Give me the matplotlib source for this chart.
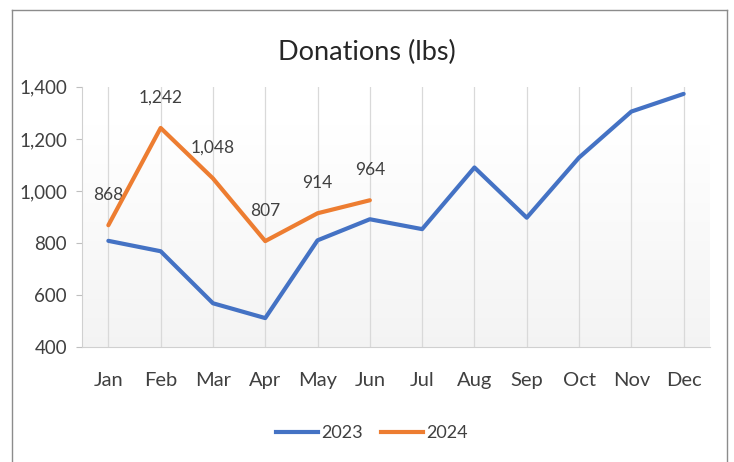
import matplotlib
matplotlib.use("Agg")
import matplotlib.pyplot as plt
import numpy as np
from matplotlib.lines import Line2D

plt.rcParams['font.family'] = ['Lato', 'DejaVu Sans']

months = ["Jan", "Feb", "Mar", "Apr", "May", "Jun", "Jul", "Aug", "Sep", "Oct", "Nov", "Dec"]
series_2023 = [808, 768, 568, 511, 810, 891, 853, 1090, 897, 1128, 1305, 1373]
series_2024 = [868, 1242, 1048, 807, 914, 964]
yticks = [400, 600, 800, 1000, 1200, 1400]

BLUE = "#4472C4"
ORANGE = "#ED7D31"
TXT = "#404040"

fig = plt.figure(figsize=(7.34, 4.62), dpi=100)
ax = fig.add_axes([0.112, 0.249, 0.855, 0.563])

x = np.arange(len(months))
# subtle gradient background
grad = np.linspace(1.0, 0.955, 256).reshape(-1, 1)
ax.imshow(np.dstack([grad, grad, grad]), extent=[-0.5, 11.5, 400, 1250], aspect='auto',
          zorder=0, origin='upper')

for xi in x:
    ax.axvline(xi, color="#d9d9d9", lw=0.9, zorder=1)

ax.plot(x, series_2023, color=BLUE, lw=3.0, label="2023", zorder=3, solid_capstyle='round')
ax.plot(x[:len(series_2024)], series_2024, color=ORANGE, lw=3.0, label="2024", zorder=4, solid_capstyle='round')

for xi, v in zip(x, series_2024):
    ax.annotate(f"{v:,}", (xi, v), xytext=(0, 22), textcoords="offset points",
                ha="center", va="center", fontsize=12.5, color=TXT)

ax.set_xlim(-0.5, 11.5)
ax.set_ylim(400, 1400)
ax.set_xticks(x)
ax.set_xticklabels(months)
ax.set_yticks(yticks)
ax.set_yticklabels([f"{v:,}" for v in yticks])
ax.tick_params(axis='x', length=0, pad=18, labelsize=14.5, labelcolor=TXT)
ax.tick_params(axis='y', length=4, color="#bfbfbf", pad=7, labelsize=13.5, labelcolor=TXT)
for s in ["top", "right"]:
    ax.spines[s].set_visible(False)
ax.spines["left"].set_color("#d0d0d0")
ax.spines["bottom"].set_color("#d0d0d0")

fig.text(0.5, 0.887, "Donations (lbs)", ha="center", va="center", fontsize=19.5, color="#262626")

leg = fig.legend(handles=[Line2D([0], [0], color=BLUE, lw=3), Line2D([0], [0], color=ORANGE, lw=3)],
                 labels=["2023", "2024"], loc="center", bbox_to_anchor=(0.507, 0.063), ncol=2,
                 frameon=False, fontsize=13, handlelength=2.3, handletextpad=0.2, columnspacing=1.0)
for t in leg.get_texts():
    t.set_color(TXT)

# outer frame
fc = "#8c8c8c"
fig.add_artist(Line2D([12/734, 12/734], [0, 1 - 10/462], transform=fig.transFigure, color=fc, lw=1))
fig.add_artist(Line2D([12/734, 727/734], [1 - 10/462, 1 - 10/462], transform=fig.transFigure, color=fc, lw=1))
fig.add_artist(Line2D([727/734, 727/734], [0, 1 - 10/462], transform=fig.transFigure, color=fc, lw=1))

fig.savefig("out.png", dpi=100)
